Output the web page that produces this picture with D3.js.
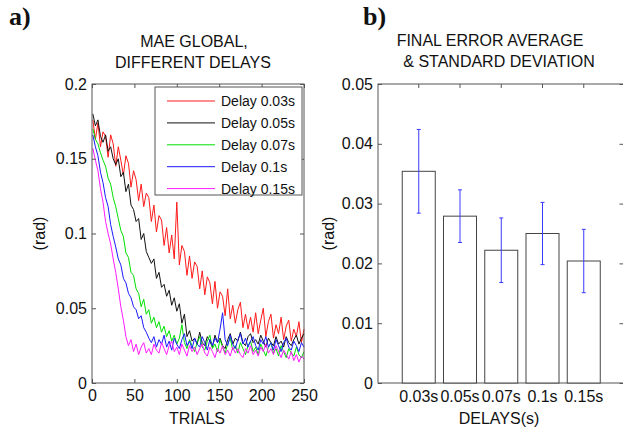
<!DOCTYPE html>
<html>
<head>
<meta charset="utf-8">
<script src="https://cdn.jsdelivr.net/npm/d3@7"></script>
<style>
    body { margin: 0; background: #fff; }
    svg { display: block; }
    text { font-family: "Liberation Sans", Arial, sans-serif; fill: #111; }
</style>
</head>
<body>
<div id="chart"></div>
<script>
// ---- Données (panneau a) ----
const trials = [1, 4, 7, 10, 13, 16, 19, 22, 25, 28, 31, 34, 37, 40, 43, 46, 49, 52, 55, 58, 61, 64, 67, 70, 73, 76, 79, 82, 85, 88, 91, 94, 97, 100, 103, 106, 109, 112, 115, 118, 121, 124, 127, 130, 133, 136, 139, 142, 145, 148, 151, 154, 157, 160, 163, 166, 169, 172, 175, 178, 181, 184, 187, 190, 193, 196, 199, 202, 205, 208, 211, 214, 217, 220, 223, 226, 229, 232, 235, 238, 241, 244, 247, 250];

const delay003 = [.176, .163, .174, .158, .168, .165, .151, .166, .160, .145, .158, .149, .139, .152, .147, .131, .142, .136, .122, .133, .118, .127, .124, .108, .119, .101, .112, .109, .092, .104, .087, .099, .083, .121, .079, .092, .088, .072, .085, .070, .081, .078, .063, .075, .059, .071, .067, .053, .068, .050, .061, .058, .045, .063, .043, .052, .040, .049, .054, .037, .046, .036, .044, .034, .047, .033, .042, .050, .031, .041, .046, .030, .039, .033, .044, .029, .038, .042, .028, .036, .031, .041, .027, .036];

const delay005 = [.180, .172, .176, .165, .161, .166, .155, .158, .150, .146, .150, .138, .141, .128, .133, .119, .116, .108, .110, .096, .100, .088, .084, .080, .083, .070, .074, .064, .066, .058, .062, .052, .057, .048, .053, .040, .046, .031, .035, .028, .030, .026, .034, .027, .025, .031, .028, .024, .032, .027, .030, .025, .023, .029, .033, .026, .030, .028, .034, .027, .025, .031, .033, .027, .029, .026, .032, .028, .024, .030, .027, .025, .031, .026, .028, .024, .031, .027, .025, .029, .032, .026, .030, .033];

const delay007 = [.170, .163, .160, .154, .149, .145, .137, .133, .124, .118, .110, .102, .098, .087, .084, .074, .072, .063, .060, .051, .056, .046, .049, .040, .044, .037, .041, .034, .038, .031, .035, .028, .032, .026, .030, .039, .027, .023, .029, .025, .021, .027, .031, .024, .022, .028, .032, .023, .026, .021, .029, .024, .020, .026, .030, .022, .025, .020, .027, .023, .019, .025, .028, .021, .024, .019, .026, .022, .018, .024, .027, .020, .023, .018, .025, .021, .017, .023, .020, .018, .024, .019, .017, .021];

const delay010 = [.166, .158, .152, .141, .134, .124, .118, .106, .098, .091, .083, .079, .070, .067, .060, .057, .051, .049, .043, .045, .037, .034, .030, .027, .031, .024, .029, .026, .032, .024, .028, .022, .030, .026, .023, .029, .033, .025, .028, .023, .030, .026, .024, .031, .027, .022, .029, .025, .030, .027, .036, .047, .029, .025, .032, .026, .023, .029, .033, .026, .030, .024, .028, .031, .025, .022, .029, .026, .031, .024, .027, .022, .029, .025, .021, .027, .030, .024, .022, .028, .025, .021, .027, .024];

const delay015 = [.157, .149, .142, .130, .121, .108, .100, .093, .083, .074, .063, .051, .042, .031, .025, .029, .021, .026, .019, .024, .027, .020, .023, .019, .026, .022, .020, .027, .023, .019, .025, .028, .021, .024, .019, .026, .022, .018, .025, .021, .024, .019, .023, .026, .020, .018, .024, .021, .017, .023, .020, .025, .019, .022, .018, .024, .020, .023, .019, .017, .023, .020, .025, .019, .022, .018, .024, .021, .026, .020, .023, .019, .025, .021, .017, .022, .019, .016, .021, .015, .019, .014, .018, .016];

const seriesNames = ["Delay 0.03s", "Delay 0.05s", "Delay 0.07s", "Delay 0.1s", "Delay 0.15s"];
const trialTicks = [0, 50, 100, 150, 200, 250];
const maeTicks = [0, 0.05, 0.1, 0.15, 0.2];

// ---- Données (panneau b) ----
const delayLabels = ["0.03s", "0.05s", "0.07s", "0.1s", "0.15s"];
const finalMean = [0.0354, 0.0279, 0.0222, 0.0250, 0.0204];
const finalStd = [0.0070, 0.0044, 0.0054, 0.0052, 0.0053];
const errorTicks = [0, 0.01, 0.02, 0.03, 0.04, 0.05];

// ---- Styles ----
const seriesColors = ["#ff1a1a", "#111111", "#00e000", "#1a1aff", "#ff1aff"];
const boxColor = "#555";
const tickFont = 16;
const labelFont = 16;

const svg = d3.select("#chart").append("svg")
    .attr("width", 623)
    .attr("height", 430);

svg.append("rect").attr("width", 623).attr("height", 430).attr("fill", "#fff");

// petite fonction pour styliser un axe façon MATLAB
function styleAxis(g) {
    g.select(".domain").remove();
    g.attr("font-size", tickFont).attr("font-family", '"Liberation Sans", Arial, sans-serif');
    g.selectAll("line").attr("stroke", boxColor);
    g.selectAll("text").attr("fill", "#111");
}

// ================= Panneau a =================
const x = d3.scaleLinear().domain([0, 250]).range([92, 304]);
const y = d3.scaleLinear().domain([0, 0.2]).range([383, 84]);

const allSeries = [delay003, delay005, delay007, delay010, delay015];

const line = d3.line()
    .x((d, i) => x(trials[i]))
    .y(d => y(d));

const plotA = svg.append("g");

allSeries.forEach((s, k) => {
    plotA.append("path")
        .datum(s)
        .attr("fill", "none")
        .attr("stroke", seriesColors[k])
        .attr("stroke-width", 1)
        .attr("stroke-linejoin", "round")
        .attr("d", line);
});

// cadre
plotA.append("rect")
    .attr("x", x(0)).attr("y", y(0.2))
    .attr("width", x(250) - x(0)).attr("height", y(0) - y(0.2))
    .attr("fill", "none").attr("stroke", boxColor);

plotA.append("g")
    .attr("transform", `translate(0,${y(0)})`)
    .call(d3.axisBottom(x).tickValues(trialTicks).tickSizeInner(-4).tickSizeOuter(0).tickPadding(7))
    .call(styleAxis);

plotA.append("g")
    .attr("transform", `translate(0,${y(0.2)})`)
    .call(d3.axisTop(x).tickValues(trialTicks).tickSizeInner(-4).tickSizeOuter(0).tickFormat(""))
    .call(styleAxis);

plotA.append("g")
    .attr("transform", `translate(${x(0)},0)`)
    .call(d3.axisLeft(y).tickValues(maeTicks).tickSizeInner(-4).tickSizeOuter(0).tickPadding(5).tickFormat(d => String(d)))
    .call(styleAxis);

plotA.append("g")
    .attr("transform", `translate(${x(250)},0)`)
    .call(d3.axisRight(y).tickValues(maeTicks).tickSizeInner(-4).tickSizeOuter(0).tickFormat(""))
    .call(styleAxis);

// légende
const legend = plotA.append("g");
legend.append("rect")
    .attr("x", 155).attr("y", 87)
    .attr("width", 147).attr("height", 108)
    .attr("fill", "#fff").attr("stroke", boxColor);

seriesNames.forEach((name, k) => {
    const ly = 101 + k * 21.9;
    legend.append("line")
        .attr("x1", 167).attr("x2", 215)
        .attr("y1", ly).attr("y2", ly)
        .attr("stroke", seriesColors[k]).attr("stroke-width", 1);
    legend.append("text")
        .attr("x", 221).attr("y", ly + 5)
        .attr("font-size", 14)
        .text(name);
});

// titres et labels
plotA.append("text").attr("x", 194).attr("y", 47).attr("text-anchor", "middle")
    .attr("font-size", labelFont).text("MAE GLOBAL,");
plotA.append("text").attr("x", 193).attr("y", 68).attr("text-anchor", "middle")
    .attr("font-size", labelFont).text("DIFFERENT DELAYS");
plotA.append("text").attr("x", 197).attr("y", 424).attr("text-anchor", "middle")
    .attr("font-size", labelFont).text("TRIALS");
plotA.append("text")
    .attr("transform", `translate(45,${(y(0) + y(0.2)) / 2}) rotate(-90)`)
    .attr("text-anchor", "middle")
    .attr("font-size", labelFont).text("(rad)");
plotA.append("text").attr("x", 9).attr("y", 25)
    .attr("font-weight", "bold").attr("font-size", 26)
    .style("font-family", '"Liberation Serif", "Times New Roman", serif')
    .text("a)");

// ================= Panneau b =================
const xb = d3.scaleBand()
    .domain(delayLabels)
    .range([377.5, 625])
    .paddingInner(0.2)
    .paddingOuter(0.6);
const yb = d3.scaleLinear().domain([0, 0.05]).range([383, 84]);

const plotB = svg.append("g");

plotB.append("g")
    .attr("transform", `translate(${xb.range()[0] + 0.5},0)`)
    .call(d3.axisLeft(yb).tickValues(errorTicks).tickSizeInner(-4).tickSizeOuter(0).tickPadding(5).tickFormat(d => String(d)))
    .call(styleAxis);

plotB.append("g")
    .attr("transform", `translate(${xb.range()[1] - 1.5},0)`)
    .call(d3.axisRight(yb).tickValues(errorTicks).tickSizeInner(-4).tickSizeOuter(0).tickFormat(""))
    .call(styleAxis);

plotB.append("g")
    .attr("transform", `translate(0,${yb(0.05)})`)
    .call(d3.axisTop(xb).tickSizeInner(-4).tickSizeOuter(0).tickFormat(""))
    .call(styleAxis);

plotB.append("g")
    .attr("transform", `translate(0,${yb(0)})`)
    .call(d3.axisBottom(xb).tickSize(0).tickPadding(8))
    .call(styleAxis);

plotB.append("rect")
    .attr("x", xb.range()[0] + 0.5).attr("y", yb(0.05))
    .attr("width", xb.range()[1] - xb.range()[0] - 2).attr("height", yb(0) - yb(0.05))
    .attr("fill", "none").attr("stroke", boxColor);

// barres
plotB.selectAll(".bar")
    .data(finalMean)
    .join("rect")
    .attr("class", "bar")
    .attr("x", (d, i) => xb(delayLabels[i]))
    .attr("y", d => yb(d))
    .attr("width", xb.bandwidth())
    .attr("height", d => yb(0) - yb(d))
    .attr("fill", "#fff")
    .attr("stroke", "#444")
    .attr("stroke-width", 1);

// barres d'erreur
finalMean.forEach((m, i) => {
    const cx = xb(delayLabels[i]) + xb.bandwidth() / 2;
    const top = yb(m + finalStd[i]);
    const bot = yb(m - finalStd[i]);
    const eb = plotB.append("g").attr("stroke", "#3a3aff").attr("stroke-width", 1);
    eb.append("line").attr("x1", cx).attr("x2", cx).attr("y1", top).attr("y2", bot);
    eb.append("line").attr("x1", cx - 2).attr("x2", cx + 2).attr("y1", top).attr("y2", top);
    eb.append("line").attr("x1", cx - 2).attr("x2", cx + 2).attr("y1", bot).attr("y2", bot);
});

plotB.append("text").attr("x", 490).attr("y", 46).attr("text-anchor", "middle")
    .attr("font-size", labelFont).text("FINAL ERROR AVERAGE");
plotB.append("text").attr("x", 499).attr("y", 67).attr("text-anchor", "middle")
    .attr("font-size", labelFont).text("& STANDARD DEVIATION");
plotB.append("text").attr("x", 499).attr("y", 424).attr("text-anchor", "middle")
    .attr("font-size", labelFont).text("DELAYS(s)");
plotB.append("text")
    .attr("transform", `translate(334,${(yb(0) + yb(0.05)) / 2}) rotate(-90)`)
    .attr("text-anchor", "middle")
    .attr("font-size", labelFont).text("(rad)");
plotB.append("text").attr("x", 363).attr("y", 25)
    .attr("font-weight", "bold").attr("font-size", 26)
    .style("font-family", '"Liberation Serif", "Times New Roman", serif')
    .text("b)");
</script>
</body>
</html>
